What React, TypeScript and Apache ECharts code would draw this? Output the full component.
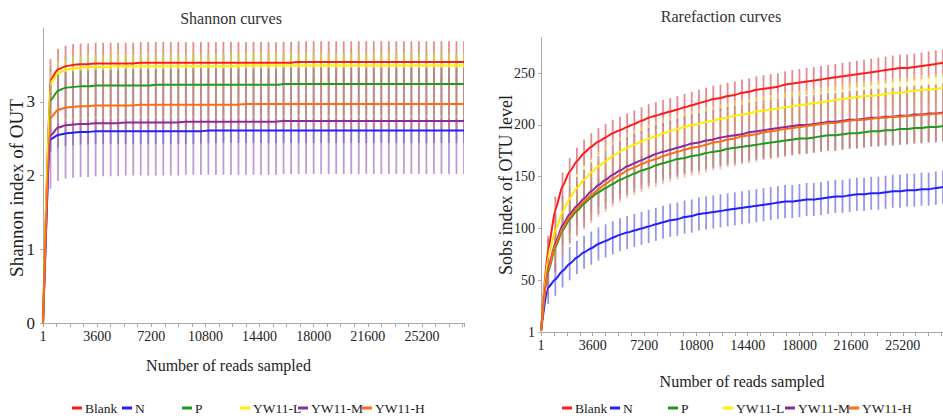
import React, { useEffect, useRef } from 'react';
import * as echarts from 'echarts';

const seriesNames = ['Blank', 'N', 'P', 'YW11-L', 'YW11-M', 'YW11-H'];
const lineColors = ['#ff1a1a', '#2020ff', '#1f9a1f', '#ffee00', '#8b2a9b', '#ff6a13'];
const barColors = [
  'rgba(215,60,70,0.6)',
  'rgba(80,80,225,0.6)',
  'rgba(70,170,70,0.5)',
  'rgba(250,235,60,0.6)',
  'rgba(150,85,185,0.6)',
  'rgba(238,135,75,0.5)',
];

// number of reads sampled
const reads = [
  1, 500, 1000, 1500, 2000, 2500, 3000, 3500, 4000, 4500,
  5000, 5500, 6000, 6500, 7000, 7500, 8000, 8500, 9000, 9500,
  10000, 10500, 11000, 11500, 12000, 12500, 13000, 13500, 14000, 14500,
  15000, 15500, 16000, 16500, 17000, 17500, 18000, 18500, 19000, 19500,
  20000, 20500, 21000, 21500, 22000, 22500, 23000, 23500, 24000, 24500,
  25000, 25500, 26000, 26500, 27000, 27500, 28000,
];

// Shannon curves (mean per sample point)
const shannonBlank = [
  0, 3.30, 3.44, 3.48, 3.50, 3.51, 3.51, 3.52, 3.52, 3.52,
  3.52, 3.52, 3.52, 3.53, 3.53, 3.53, 3.53, 3.53, 3.53, 3.53,
  3.53, 3.53, 3.53, 3.53, 3.53, 3.53, 3.53, 3.53, 3.53, 3.53,
  3.53, 3.53, 3.53, 3.53, 3.54, 3.54, 3.54, 3.54, 3.54, 3.54,
  3.54, 3.54, 3.54, 3.54, 3.54, 3.54, 3.54, 3.54, 3.54, 3.54,
  3.54, 3.54, 3.54, 3.54, 3.54, 3.54, 3.54,
];
const shannonN = [
  0, 2.49, 2.55, 2.57, 2.58, 2.59, 2.59, 2.60, 2.60, 2.60,
  2.60, 2.60, 2.60, 2.60, 2.60, 2.60, 2.60, 2.60, 2.60, 2.60,
  2.60, 2.60, 2.61, 2.61, 2.61, 2.61, 2.61, 2.61, 2.61, 2.61,
  2.61, 2.61, 2.61, 2.61, 2.61, 2.61, 2.61, 2.61, 2.61, 2.61,
  2.61, 2.61, 2.61, 2.61, 2.61, 2.61, 2.61, 2.61, 2.61, 2.61,
  2.61, 2.61, 2.61, 2.61, 2.61, 2.61, 2.61,
];
const shannonP = [
  0, 3.02, 3.15, 3.19, 3.20, 3.21, 3.21, 3.22, 3.22, 3.22,
  3.22, 3.22, 3.22, 3.22, 3.22, 3.23, 3.23, 3.23, 3.23, 3.23,
  3.23, 3.23, 3.23, 3.23, 3.23, 3.23, 3.23, 3.23, 3.23, 3.23,
  3.23, 3.23, 3.24, 3.24, 3.24, 3.24, 3.24, 3.24, 3.24, 3.24,
  3.24, 3.24, 3.24, 3.24, 3.24, 3.24, 3.24, 3.24, 3.24, 3.24,
  3.24, 3.24, 3.24, 3.24, 3.24, 3.24, 3.24,
];
const shannonL = [
  0, 3.24, 3.39, 3.43, 3.45, 3.46, 3.47, 3.47, 3.47, 3.48,
  3.48, 3.48, 3.48, 3.48, 3.48, 3.48, 3.48, 3.48, 3.48, 3.48,
  3.48, 3.48, 3.48, 3.48, 3.48, 3.48, 3.49, 3.49, 3.49, 3.49,
  3.49, 3.49, 3.49, 3.49, 3.49, 3.49, 3.49, 3.49, 3.49, 3.49,
  3.49, 3.49, 3.49, 3.49, 3.49, 3.49, 3.49, 3.49, 3.49, 3.49,
  3.49, 3.49, 3.49, 3.49, 3.49, 3.49, 3.49,
];
const shannonM = [
  0, 2.54, 2.65, 2.68, 2.69, 2.70, 2.70, 2.71, 2.71, 2.71,
  2.71, 2.72, 2.72, 2.72, 2.72, 2.72, 2.72, 2.72, 2.72, 2.73,
  2.73, 2.73, 2.73, 2.73, 2.73, 2.73, 2.73, 2.73, 2.73, 2.73,
  2.73, 2.73, 2.74, 2.74, 2.74, 2.74, 2.74, 2.74, 2.74, 2.74,
  2.74, 2.74, 2.74, 2.74, 2.74, 2.74, 2.74, 2.74, 2.74, 2.74,
  2.74, 2.74, 2.74, 2.74, 2.74, 2.74, 2.74,
];
const shannonH = [
  0, 2.78, 2.89, 2.92, 2.93, 2.94, 2.94, 2.95, 2.95, 2.95,
  2.95, 2.95, 2.95, 2.96, 2.96, 2.96, 2.96, 2.96, 2.96, 2.96,
  2.96, 2.96, 2.96, 2.96, 2.96, 2.96, 2.96, 2.97, 2.97, 2.97,
  2.97, 2.97, 2.97, 2.97, 2.97, 2.97, 2.97, 2.97, 2.97, 2.97,
  2.97, 2.97, 2.97, 2.97, 2.97, 2.97, 2.97, 2.97, 2.97, 2.97,
  2.97, 2.97, 2.97, 2.97, 2.97, 2.97, 2.97,
];
const shannonSd = [0.28, 0.17, 0.42, 0.17, 0.72, 0.35];

// Rarefaction curves (Sobs, mean per sample point)
const sobsBlank = [
  1, 80, 118, 141, 155, 165, 173, 179, 184, 188,
  192, 195, 198, 201, 204, 207, 209, 211, 213, 215,
  217, 219, 221, 223, 225, 226, 228, 229, 231, 232,
  234, 235, 236, 237, 239, 240, 241, 242, 243, 244,
  245, 246, 247, 248, 249, 250, 251, 252, 253, 254,
  255, 255, 256, 257, 258, 259, 260,
];
const sobsN = [
  1, 43, 51, 59, 66, 72, 77, 81, 85, 88,
  91, 94, 96, 98, 100, 102, 104, 106, 108, 109,
  111, 112, 114, 115, 116, 117, 118, 119, 120, 121,
  122, 123, 124, 125, 126, 126, 127, 128, 128, 129,
  130, 131, 131, 132, 133, 133, 134, 134, 135, 136,
  136, 137, 137, 138, 138, 139, 140,
];
const sobsP = [
  1, 58, 82, 98, 109, 117, 124, 130, 135, 139,
  143, 147, 150, 153, 156, 158, 161, 163, 165, 167,
  168, 170, 171, 173, 174, 175, 177, 178, 179, 180,
  181, 182, 183, 184, 185, 186, 187, 187, 188, 189,
  190, 190, 191, 192, 192, 193, 194, 194, 195, 195,
  196, 196, 197, 197, 198, 198, 199,
];
const sobsL = [
  1, 72, 98, 116, 129, 139, 147, 154, 160, 165,
  170, 174, 178, 181, 184, 187, 189, 192, 194, 196,
  198, 200, 201, 203, 204, 206, 207, 209, 210, 211,
  213, 214, 215, 216, 217, 218, 219, 220, 221, 222,
  223, 224, 225, 226, 227, 228, 228, 229, 230, 231,
  231, 232, 233, 234, 234, 235, 236,
];
const sobsM = [
  1, 62, 86, 103, 114, 122, 129, 136, 142, 147,
  152, 156, 160, 163, 166, 169, 172, 174, 176, 178,
  180, 182, 183, 185, 186, 188, 189, 190, 191, 193,
  194, 195, 196, 197, 198, 199, 200, 200, 201, 202,
  203, 203, 204, 205, 205, 206, 207, 207, 208, 208,
  209, 209, 210, 210, 211, 211, 212,
];
const sobsH = [
  1, 60, 84, 100, 111, 119, 126, 132, 138, 143,
  148, 152, 156, 159, 162, 165, 167, 170, 172, 174,
  176, 178, 179, 181, 183, 184, 186, 187, 189, 190,
  191, 193, 194, 195, 196, 197, 198, 199, 200, 201,
  202, 202, 203, 204, 205, 205, 206, 207, 207, 208,
  208, 209, 209, 210, 210, 211, 211,
];
const sobsSd = [13, 16, 14, 14, 28, 27];

const shannonSeries = [shannonBlank, shannonN, shannonP, shannonL, shannonM, shannonH];
const sobsSeries = [sobsBlank, sobsN, sobsP, sobsL, sobsM, sobsH];

const leftLegendX = [72, 122, 182, 240, 298, 362];
const rightLegendX = [562, 610, 668, 723, 785, 849];

const FONT = 'Liberation Serif';

function buildOption() {
  const series: any[] = [];
  const addGroup = (axisIdx: number, values: number[][], sds: number[]) => {
    values.forEach((vals, i) => {
      const bars = reads
        .map((x, k) => [x, Math.max(0, vals[k] - sds[i]), vals[k] + sds[i]])
        .filter((_, k) => k > 0);
      const color = barColors[i];
      series.push({
        type: 'custom',
        name: seriesNames[i],
        xAxisIndex: axisIdx,
        yAxisIndex: axisIdx,
        data: bars,
        clip: true,
        silent: true,
        z: 1,
        encode: { x: 0, y: [1, 2] },
        renderItem: (_params: any, api: any) => {
          const a = api.coord([api.value(0), api.value(1)]);
          const b = api.coord([api.value(0), api.value(2)]);
          return {
            type: 'line',
            shape: { x1: a[0], y1: a[1], x2: b[0], y2: b[1] },
            style: { stroke: color, lineWidth: 1.8 },
          };
        },
      });
    });
    values.forEach((vals, i) => {
      series.push({
        type: 'line',
        name: seriesNames[i],
        xAxisIndex: axisIdx,
        yAxisIndex: axisIdx,
        data: reads.map((x, k) => [x, vals[k]]),
        showSymbol: false,
        symbol: 'none',
        smooth: 0.2,
        smoothMonotone: 'x',
        z: 3,
        lineStyle: { color: lineColors[i], width: 2 },
        itemStyle: { color: lineColors[i] },
      });
    });
  };
  addGroup(0, shannonSeries, shannonSd);
  addGroup(1, sobsSeries, sobsSd);

  const mkLegend = (xs: number[]) =>
    xs.map((x, i) => ({
      left: x,
      top: 401,
      padding: 0,
      icon: 'rect',
      itemWidth: 10,
      itemHeight: 3,
      data: [{ name: seriesNames[i], itemStyle: { color: lineColors[i] } }],
      textStyle: { fontFamily: FONT, fontSize: 13.5, color: '#222', padding: [0, 0, 0, -2] },
    }));

  const labelStyle = { fontFamily: FONT, fontSize: 14, color: '#222' };
  const xAxisBase = {
    type: 'value',
    min: 0,
    max: 28000,
    interval: 3600,
    axisLine: { lineStyle: { color: '#aaa' } },
    axisTick: { show: true, length: 4, lineStyle: { color: '#aaa' } },
    minorTick: { show: true, splitNumber: 4, length: 4, lineStyle: { color: '#aaa' } },
    splitLine: { show: false },
    nameLocation: 'middle',
    axisLabel: {
      ...labelStyle,
      margin: 6,
      showMaxLabel: false,
      formatter: (v: number) => (v === 0 ? '1' : String(v)),
    },
  };

  return {
    animation: false,
    backgroundColor: '#fff',
    title: [
      {
        text: 'Shannon curves',
        left: 226,
        top: 5,
        textAlign: 'center',
        textStyle: { fontFamily: FONT, fontSize: 16, fontWeight: 'normal', color: '#333' },
      },
      {
        text: 'Rarefaction curves',
        left: 716,
        top: 3,
        textAlign: 'center',
        textStyle: { fontFamily: FONT, fontSize: 16, fontWeight: 'normal', color: '#333' },
      },
    ],
    legend: [...mkLegend(leftLegendX), ...mkLegend(rightLegendX)],
    grid: [
      { left: 43, top: 28, width: 421, height: 295 },
      { left: 541, top: 38, width: 408, height: 294 },
    ],
    xAxis: [
      {
        ...xAxisBase,
        gridIndex: 0,
        name: 'Number of reads sampled',
        nameGap: 34,
        nameTextStyle: { fontFamily: FONT, fontSize: 16, color: '#222', padding: [0, 50, 0, 0] },
      },
      {
        ...xAxisBase,
        gridIndex: 1,
        name: 'Number of reads sampled',
        nameGap: 41,
        nameTextStyle: { fontFamily: FONT, fontSize: 16, color: '#222' },
      },
    ],
    yAxis: [
      {
        type: 'value',
        gridIndex: 0,
        min: 0,
        max: 4,
        interval: 1,
        name: 'Shannon index of OUT',
        nameLocation: 'middle',
        nameGap: 17,
        nameMoveOverlap: false,
        nameTextStyle: { fontFamily: FONT, fontSize: 19, color: '#222', padding: [0, 25, 0, 0] },
        axisLine: { show: true, lineStyle: { color: '#aaa' } },
        axisTick: { show: true, length: 3, lineStyle: { color: '#aaa' } },
        splitLine: { show: false },
        axisLabel: { fontFamily: FONT, fontSize: 17, color: '#222', margin: 8, showMaxLabel: false },
      },
      {
        type: 'value',
        gridIndex: 1,
        min: 0,
        max: 284,
        interval: 50,
        name: 'Sobs index of OTU level',
        nameLocation: 'middle',
        nameGap: 26,
        nameMoveOverlap: false,
        nameTextStyle: { fontFamily: FONT, fontSize: 18, color: '#222' },
        axisLine: { show: true, lineStyle: { color: '#aaa' } },
        axisTick: { show: true, length: 3, lineStyle: { color: '#aaa' } },
        splitLine: { show: false },
        axisLabel: {
          fontFamily: FONT,
          fontSize: 14,
          color: '#222',
          margin: 6,
          showMaxLabel: false,
          formatter: (v: number) => (v === 0 ? '1' : String(v)),
        },
      },
    ],
    series,
  };
}

export default function App() {
  const ref = useRef<HTMLDivElement>(null);
  useEffect(() => {
    document.body.style.margin = '0';
    if (!ref.current) return;
    const chart = echarts.init(ref.current, undefined, { renderer: 'svg' });
    chart.setOption(buildOption() as any);
    return () => {
      chart.dispose();
    };
  }, []);
  return <div ref={ref} style={{ width: 943, height: 418 }} />;
}
